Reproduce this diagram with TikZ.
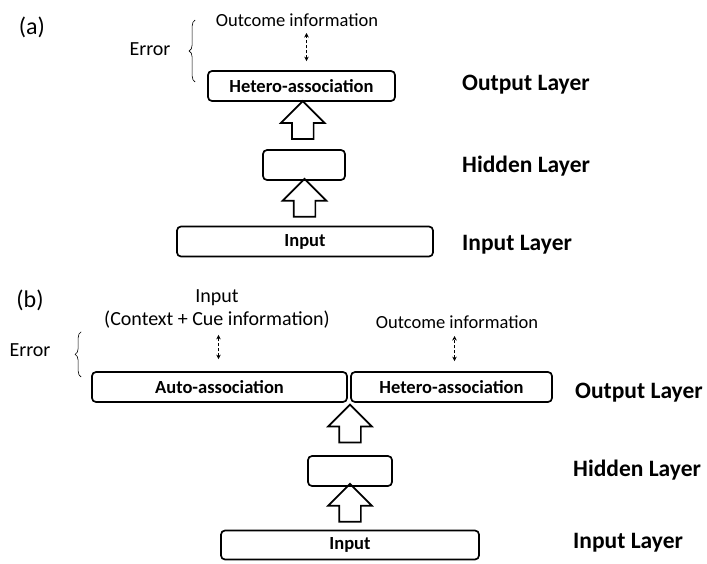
\documentclass[tikz,border=0pt]{standalone}
\usepackage{fontspec}
\setmainfont{Carlito}
\usetikzlibrary{shapes.arrows,arrows.meta,calc,decorations.pathreplacing}

\begin{document}
\begin{tikzpicture}[x=1pt, y=-1pt,
  font=\fontsize{18.5}{22}\selectfont,
  unit/.style={draw, line width=1.7pt, rounded corners=4pt, minimum height=30pt, inner sep=0pt, font=\fontsize{18.5}{22}\selectfont\bfseries},
  layer/.style={anchor=west, inner sep=0pt, font=\fontsize{23.5}{27}\selectfont\bfseries},
  feed/.style={draw, line width=1.7pt, single arrow, rotate=90, minimum height=38pt, inner sep=10pt, single arrow head extend=11pt},
  teach/.style={{Stealth[length=4.5pt,width=4.5pt]}-{Stealth[length=4.5pt,width=4.5pt]}, densely dashed, semithick},
  err/.style={decorate, decoration={brace, amplitude=6pt}, semithick}]

\useasboundingbox (0,0) rectangle (707,563);

% (a) feed-forward network
\node (alab) at (32,27) {\fontsize{24}{28}\selectfont(a)};
\node (aoutc) at (297,20) {Outcome information};
\node[unit, minimum width=187pt] (aout) at (301.5,86) {Hetero-association};
\node[unit, minimum width=82pt] (ahid) at (304,165) {};
\node[unit, minimum width=256pt] (ain) at (305,241.5) {Input};

\node[layer] (aoutl) at (462,85) {Output Layer};
\node[layer] (ahidl) at (462,166) {Hidden Layer};
\node[layer] (ainl) at (462,245) {Input Layer};

\node[feed] (aarr1) at ($(ahid.north)!0.5!(aout.south)$) {};
\node[feed] (aarr2) at ($(ain.north)!0.5!(ahid.south)$) {};

\draw[teach] ([xshift=5pt,yshift=9pt]aout.north) -- ([xshift=5pt,yshift=-3pt]aout.north |- aoutc.south);

\coordinate (aerrlo) at ([xshift=-12pt,yshift=4pt]aout.west);
\coordinate (aerrhi) at (aerrlo |- aoutc);
\draw[err] (aerrlo) -- (aerrhi);
\node (aerr) at (150,49) {\fontsize{20}{24}\selectfont Error};

% (b) auto- and hetero-association
\node (blab) at (30,300) {\fontsize{24}{28}\selectfont(b)};
\node[align=center, font=\fontsize{20}{23}\selectfont] (bctx) at (217,309) {Input\\(Context + Cue information)};
\node (boutc) at (457,322) {Outcome information};
\node[unit, minimum width=255pt] (bauto) at (219.5,387) {Auto-association};
\node[unit, minimum width=201pt] (bhet) at (451.5,387) {Hetero-association};
\node[unit, minimum width=84pt] (bhid) at (350,471) {};
\node[unit, minimum width=258pt, minimum height=29pt] (bin) at (350,545) {Input};

\node[layer] (boutl) at (575,393) {Output Layer};
\node[layer] (bhidl) at (573,470) {Hidden Layer};
\node[layer] (binl) at (573,543) {Input Layer};

\node[feed] (barr1) at ($(bhid.north)!0.5!(bhid.north |- bhet.south)$) {};
\node[feed] (barr2) at ($(bin.north)!0.5!(bhid.south)$) {};

\draw[teach] ([xshift=-1pt,yshift=12pt]bauto.north) -- ([xshift=-1pt,yshift=-3pt]bauto.north |- bctx.south);
\draw[teach] ([xshift=3pt,yshift=10pt]bhet.north) -- ([xshift=3pt,yshift=-4pt]bhet.north |- boutc.south);

\coordinate (berrlo) at ([xshift=-10pt,yshift=10pt]bauto.west);
\coordinate (berrhi) at (berrlo |- bctx.south);
\draw[err] (berrlo) -- (berrhi);
\node (berr) at (30,350) {\fontsize{20}{24}\selectfont Error};
\end{tikzpicture}
\end{document}
